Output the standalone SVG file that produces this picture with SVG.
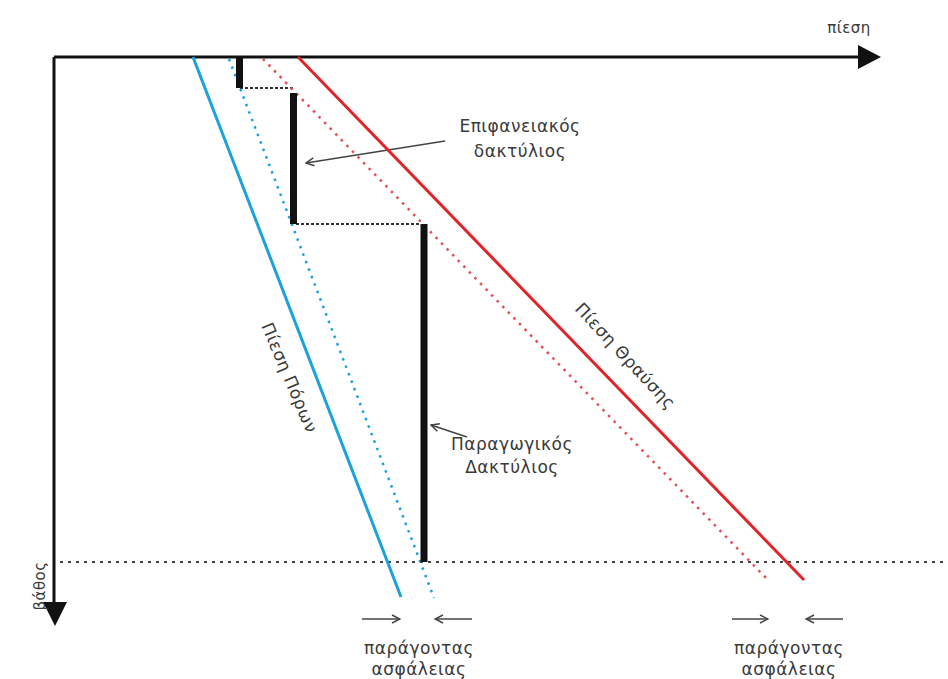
<svg xmlns="http://www.w3.org/2000/svg" width="948" height="679" viewBox="0 0 948 679">
  <style>
    .lbl { font-family: "DejaVu Sans", "Liberation Sans", sans-serif; font-size: 17px; letter-spacing: 0.5px; fill: #3a3a3a; }
    .axis { stroke: #111; stroke-width: 3; fill: none; }
    .pore { stroke: #1ba1dc; stroke-width: 3; fill: none; }
    .pore-d { stroke: #1ba1dc; stroke-width: 2.5; stroke-dasharray: 2.5 5.5; fill: none; }
    .frac { stroke: #e2232a; stroke-width: 3; fill: none; }
    .frac-d { stroke: #e84a55; stroke-width: 2.5; stroke-dasharray: 2.5 5.5; fill: none; }
    .casing { stroke: #111; stroke-width: 7; fill: none; }
    .step { stroke: #333; stroke-width: 1.8; stroke-dasharray: 3 2; fill: none; }
    .depth { stroke: #444; stroke-width: 2.2; stroke-dasharray: 3 5; fill: none; }
    .lead { stroke: #444; stroke-width: 1.5; fill: none; marker-end: url(#open); }
  </style>
  <defs>
    <marker id="open" viewBox="0 0 10 10" refX="9" refY="5" markerWidth="10" markerHeight="10" markerUnits="userSpaceOnUse" orient="auto">
      <path d="M1,1 L9,5 L1,9" fill="none" stroke="#444" stroke-width="1.5"/>
    </marker>
  </defs>

  <g id="axes">
    <line class="axis" x1="54" y1="57" x2="858" y2="57"/>
    <path d="M858,45 L881,57 L858,69 Z" fill="#111"/>
    <line class="axis" x1="54" y1="57" x2="54" y2="602"/>
    <path d="M43,602 L55,626 L67,602 Z" fill="#111"/>
    <text class="lbl" x="849" y="33" text-anchor="middle" style="font-size:15px">πίεση</text>
    <text class="lbl" transform="translate(45,586) rotate(-90)" text-anchor="middle" style="font-size:15px">βάθος</text>
  </g>

  <g id="connectors">
    <line class="depth" x1="60" y1="562" x2="948" y2="562"/>
    <line class="step" x1="240" y1="88" x2="295" y2="88"/>
    <line class="step" x1="296" y1="224" x2="421" y2="224"/>
    <line class="lead" x1="445" y1="141" x2="306" y2="163"/>
    <line class="lead" x1="467" y1="437" x2="431" y2="425"/>
    <line class="lead" x1="362" y1="619" x2="400" y2="619"/>
    <line class="lead" x1="472" y1="619" x2="435" y2="619"/>
    <line class="lead" x1="732" y1="619" x2="768" y2="619"/>
    <line class="lead" x1="843" y1="619" x2="806" y2="619"/>
  </g>

  <g id="pore-pressure">
    <line class="pore" x1="193" y1="57" x2="401" y2="597"/>
    <line class="pore-d" x1="229" y1="59" x2="434" y2="598"/>
    <text class="lbl" transform="translate(284,380) rotate(67)" text-anchor="middle">Πίεση Πόρων</text>
  </g>

  <g id="fracture-pressure">
    <line class="frac" x1="298" y1="57" x2="804" y2="580"/>
    <line class="frac-d" x1="263" y1="59" x2="768" y2="580"/>
    <text class="lbl" transform="translate(621,360) rotate(47)" text-anchor="middle">Πίεση Θραύσης</text>
  </g>

  <g id="surface-casing">
    <line class="casing" x1="239.5" y1="57" x2="239.5" y2="88"/>
    <line class="casing" x1="293.5" y1="93" x2="293.5" y2="224"/>
    <text class="lbl" x="520" y="132" text-anchor="middle">Επιφανειακός</text>
    <text class="lbl" x="520" y="157" text-anchor="middle">δακτύλιος</text>
  </g>

  <g id="production-casing">
    <line class="casing" x1="424" y1="224" x2="424" y2="562"/>
    <text class="lbl" x="512" y="450" text-anchor="middle">Παραγωγικός</text>
    <text class="lbl" x="512" y="473" text-anchor="middle">Δακτύλιος</text>
  </g>

  <g id="safety-margins">
    <text class="lbl" x="419" y="654" text-anchor="middle">παράγοντας</text>
    <text class="lbl" x="419" y="675" text-anchor="middle">ασφάλειας</text>
    <text class="lbl" x="789" y="654" text-anchor="middle">παράγοντας</text>
    <text class="lbl" x="789" y="675" text-anchor="middle">ασφάλειας</text>
  </g>
</svg>
